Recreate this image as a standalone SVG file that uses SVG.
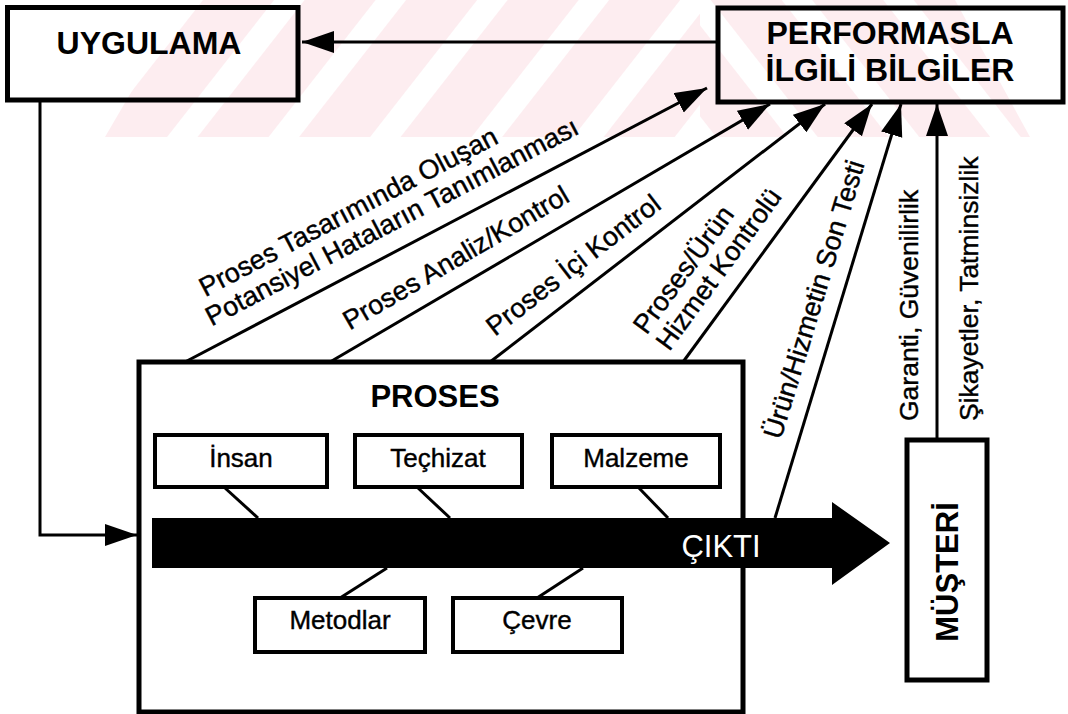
<svg xmlns="http://www.w3.org/2000/svg" width="1068" height="714" viewBox="0 0 1068 714">
  <style>
    text { font-family: "Liberation Sans", Arial, sans-serif; fill: #000; }
    .title { font-size: 32px; font-weight: bold; text-anchor: middle; }
    .item { font-size: 26px; text-anchor: middle; stroke: #000; stroke-width: 0.4; }
    .lbl { font-size: 27px; stroke: #000; stroke-width: 0.4; }
    .vlbl { font-size: 26.5px; stroke: #000; stroke-width: 0.4; }
    .box { fill: none; stroke: #000; stroke-width: 5; }
    .sub { fill: none; stroke: #000; stroke-width: 4; }
    .conn { fill: none; stroke: #000; stroke-width: 3; }
    .tie { fill: none; stroke: #000; stroke-width: 3; }
  </style>
  <defs>
    <marker id="ah" markerUnits="userSpaceOnUse" markerWidth="34" markerHeight="24" refX="32" refY="11" orient="auto">
      <path d="M0,0 L32,11 L0,22 z" fill="#000"/>
    </marker>
    <pattern id="stripeL" patternUnits="userSpaceOnUse" width="80" height="80" patternTransform="rotate(38)">
      <rect width="56" height="80" fill="#fdedf0"/>
    </pattern>
    <pattern id="stripeR" patternUnits="userSpaceOnUse" width="80" height="80" patternTransform="rotate(-38)">
      <rect width="56" height="80" fill="#fdedf0"/>
    </pattern>
  </defs>

  <rect width="1068" height="714" fill="#fff"/>

  <!-- background band of diagonal stripes -->
  <g id="band">
    <polygon points="185,0 700,0 700,137 105,137" fill="url(#stripeL)"/>
    <polygon points="700,0 955,0 1030,137 700,137" fill="url(#stripeR)"/>
  </g>

  <!-- connectors -->
  <g id="connectors">
    <path class="conn" d="M718,42 L302,42" marker-end="url(#ah)"/>
    <path class="conn" d="M40,102 L40,535 L137,535" marker-end="url(#ah)"/>
    <path class="conn" d="M185,362 L707,88" marker-end="url(#ah)"/>
    <path class="conn" d="M330,362 L770,104" marker-end="url(#ah)"/>
    <path class="conn" d="M490,362 L825,104" marker-end="url(#ah)"/>
    <path class="conn" d="M683,362 L872,104" marker-end="url(#ah)"/>
    <path class="conn" d="M775,518 L901,104" marker-end="url(#ah)"/>
    <path class="conn" d="M937,440 L937,104" marker-end="url(#ah)"/>

    <text class="lbl" transform="translate(205.2,297.2) rotate(-27.7)">Proses Tasarımında Oluşan</text>
    <text class="lbl" transform="translate(211.6,326.6) rotate(-27.7)">Potansiyel Hataların Tanımlanması</text>
    <text class="lbl" transform="translate(349.8,330.5) rotate(-30.4)">Proses Analiz/Kontrol</text>
    <text class="lbl" transform="translate(495,336.7) rotate(-37.6)">Proses İçi Kontrol</text>
    <text class="lbl" transform="translate(646.6,335.5) rotate(-53.8)">Proses/Ürün</text>
    <text class="lbl" transform="translate(669.3,352) rotate(-53.8)">Hizmet Kontrolü</text>
    <text class="lbl" transform="translate(780.8,440.3) rotate(-73.1)">Ürün/Hizmetin Son Testi</text>
    <text class="vlbl" transform="translate(918,421) rotate(-90)">Garanti, Güvenilirlik</text>
    <text class="vlbl" transform="translate(978,421) rotate(-90)">Şikayetler, Tatminsizlik</text>
  </g>

  <g id="uygulama">
    <rect class="box" x="7.5" y="7.5" width="290.5" height="92.5"/>
    <text class="title" x="149" y="54">UYGULAMA</text>
  </g>

  <g id="performans">
    <rect class="box" x="718" y="8" width="345" height="94"/>
    <text class="title" x="890" y="44">PERFORMASLA</text>
    <text class="title" x="890" y="81">İLGİLİ BİLGİLER</text>
  </g>

  <g id="proses">
    <rect class="box" x="139" y="362" width="604" height="350"/>
    <text class="title" x="435" y="407" style="font-size:31px">PROSES</text>
  </g>

  <g id="cikti">
    <polygon points="152,518 832,518 832,502 890,543 832,585 832,568 152,568" fill="#000"/>
    <text x="721" y="557" style="font-size:31px;fill:#fff;text-anchor:middle">ÇIKTI</text>
  </g>

  <g id="ties">
    <path class="tie" d="M225,488 L258,518"/>
    <path class="tie" d="M418,488 L450,518"/>
    <path class="tie" d="M638,487 L668,518"/>
    <path class="tie" d="M340,598 L387,568"/>
    <path class="tie" d="M537,598 L583,568"/>
  </g>

  <g id="insan">
    <rect class="sub" x="155" y="435" width="172" height="52"/>
    <text class="item" x="241" y="467">İnsan</text>
  </g>
  <g id="techizat">
    <rect class="sub" x="355" y="435" width="167" height="52"/>
    <text class="item" x="438" y="467">Teçhizat</text>
  </g>
  <g id="malzeme">
    <rect class="sub" x="552" y="435" width="168" height="52"/>
    <text class="item" x="636" y="467">Malzeme</text>
  </g>
  <g id="metodlar">
    <rect class="sub" x="255" y="598" width="170" height="54"/>
    <text class="item" x="340" y="629">Metodlar</text>
  </g>
  <g id="cevre">
    <rect class="sub" x="453" y="598" width="169" height="54"/>
    <text class="item" x="537" y="629">Çevre</text>
  </g>

  <g id="musteri">
    <rect class="box" x="907" y="440" width="80" height="240"/>
    <text class="title" transform="translate(958,572) rotate(-90)" style="font-size:31px">MÜŞTERİ</text>
  </g>
</svg>
